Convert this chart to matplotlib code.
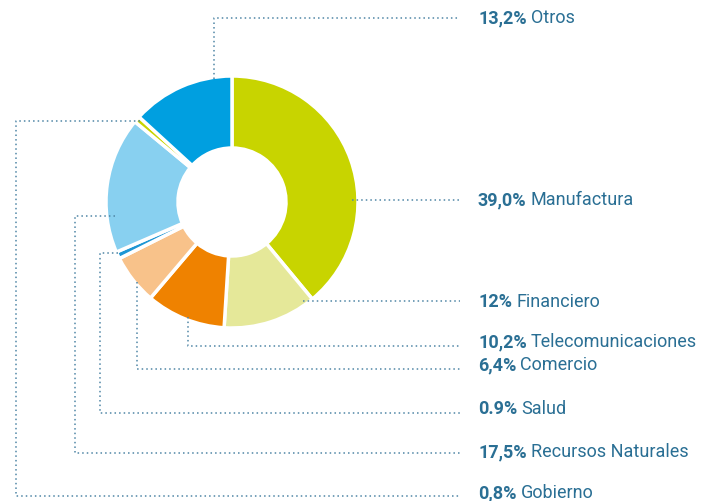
import matplotlib.pyplot as plt
import numpy as np

# datos del gráfico (orden horario desde arriba)
sectores = ['Manufactura', 'Financiero', 'Telecomunicaciones', 'Comercio',
            'Salud', 'Recursos Naturales', 'Gobierno', 'Otros']
valores = [39.0, 12.0, 10.2, 6.4, 0.9, 17.5, 0.8, 13.2]
etiquetas_pct = ['39,0%', '12%', '10,2%', '6,4%', '0.9%', '17,5%', '0,8%', '13,2%']
colores = ['#c8d400', '#e5e899', '#ef8200', '#f8c28a',
           '#1d96d4', '#88d0f0', '#c8d400', '#009fe0']

W, H = 717, 501
cx, cy = 232, H - 202
R = 126
ancho = 72

texto_color = '#2a6f94'
linea_color = '#4f86a6'

fig = plt.figure(figsize=(W / 100, H / 100), dpi=100)
ax = fig.add_axes([0, 0, 1, 1])
ax.pie(valores, colors=colores, startangle=90, counterclock=False,
       center=(cx, cy), radius=R,
       wedgeprops=dict(width=ancho, edgecolor='white', linewidth=2.5))
ax.set_xlim(0, W)
ax.set_ylim(0, H)
ax.set_aspect('equal')
ax.axis('off')

# anclaje de cada guía: (ángulo, radio)
anclas = {
    'Otros': (98.3, 124),
    'Manufactura': (1.0, 120),
    'Financiero': (-54.4, 122),
    'Telecomunicaciones': (-110.9, 123),
    'Comercio': (-139.9, 124),
    'Salud': (-155.9, 125),
    'Recursos Naturales': (-173.0, 118),
    'Gobierno': (138.6, 122),
}
# x de la vertical (None = sin quiebre a la izquierda), y final de la guía, y de texto
rutas = {
    'Otros': (None, 18, 18),
    'Manufactura': (None, None, 200),
    'Financiero': (None, None, 302),
    'Telecomunicaciones': (None, 346, 342),
    'Comercio': (None, 369, 365),
    'Salud': (100, 413, 409),
    'Recursos Naturales': (75, 453, 452),
    'Gobierno': (16, 496, 493),
}
x_fin = 460
x_texto = 478

fig.canvas.draw()
renderer = fig.canvas.get_renderer()

for nombre, pct in zip(sectores, etiquetas_pct):
    ang, r = anclas[nombre]
    ax0 = cx + r * np.cos(np.radians(ang))
    ay0 = cy + r * np.sin(np.radians(ang))
    xv, yfin, ytxt = rutas[nombre]
    xs, ys = [ax0], [ay0]
    if xv is not None:
        xs += [xv, xv]
        ys += [ay0, H - yfin]
    elif yfin is not None:
        xs += [ax0]
        ys += [H - yfin]
    xs.append(x_fin)
    ys.append(ys[-1])
    ax.plot(xs, ys, color=linea_color, lw=1.1, linestyle=(0, (1, 2)),
            solid_capstyle='butt')

    t = ax.text(x_texto, H - ytxt, pct, fontsize=13, fontweight='bold',
                family='Roboto', color=texto_color, va='center', ha='left')
    bb = t.get_window_extent(renderer=renderer)
    ax.text(bb.x1 + 4, H - ytxt, nombre, fontsize=13, family='Roboto',
            color=texto_color, va='center', ha='left')

fig.savefig('out.png', dpi=100)
